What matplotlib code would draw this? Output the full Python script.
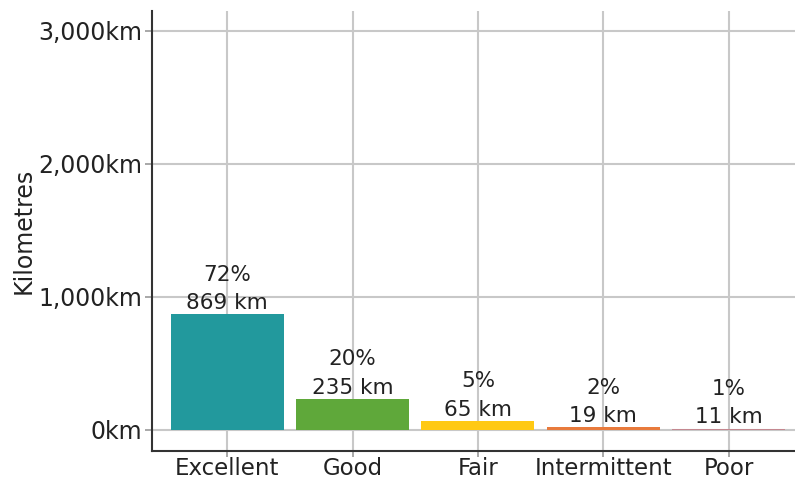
import matplotlib.pyplot as plt
from matplotlib.ticker import FuncFormatter

# Data
categories = ['Excellent', 'Good', 'Fair', 'Intermittent', 'Poor']
km = [869, 235, 65, 19, 11]
pct = [72, 20, 5, 2, 1]
colors = ['#22999d', '#5fa83a', '#ffc914', '#e87a3c', '#c48890']

plt.rcParams['font.family'] = 'DejaVu Sans'

fig = plt.figure(figsize=(7.95, 4.8), dpi=100)
ax = fig.add_axes([152 / 795, 29 / 480, 643 / 795, 440 / 480])

x = range(len(categories))
ax.bar(x, km, width=0.9, color=colors, zorder=3)

for i, (v, p) in enumerate(zip(km, pct)):
    ax.text(i, v + 8, f'{p}%\n{v} km', ha='center', va='bottom',
            fontsize=15.5, color='#222222', linespacing=1.55, zorder=4)

ax.set_xlim(-0.6, 4.53)
ax.set_ylim(-158, 3150)
ax.set_yticks([0, 1000, 2000, 3000])
ax.yaxis.set_major_formatter(FuncFormatter(lambda v, _: f'{int(v):,}km'))
ax.set_xticks(list(x))
ax.set_xticklabels(categories)
ax.tick_params(axis='y', labelsize=17, colors='#222222', length=5,
               width=1.2, color='#999999', pad=2)
ax.tick_params(axis='x', labelsize=16.5, colors='#222222', length=4,
               width=1.2, color='#999999', pad=0.5)
ax.set_ylabel('Kilometres', fontsize=17, color='#222222', labelpad=2)

ax.grid(True, color='#c8c8c8', linewidth=1.5, zorder=0)
ax.set_axisbelow(True)
for side in ['top', 'right']:
    ax.spines[side].set_visible(False)
for side in ['left', 'bottom']:
    ax.spines[side].set_color('#333333')
    ax.spines[side].set_linewidth(1.5)

fig.savefig('out.png', dpi=100)
